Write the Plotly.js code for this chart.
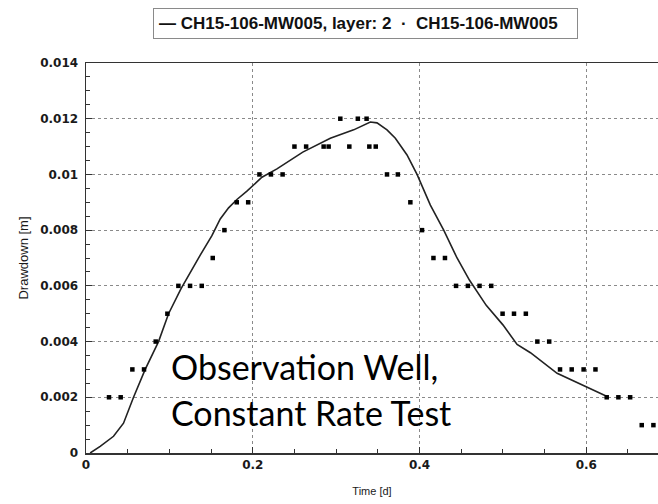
<!DOCTYPE html>
<html>
<head>
<meta charset="utf-8">
<script src="https://cdn.plot.ly/plotly-3.0.1.min.js"></script>
<style>
  html, body { margin: 0; padding: 0; background: #ffffff; }
  #chart { width: 658px; height: 504px; }
</style>
</head>
<body>
<div id="chart"></div>
<script>
// Simulated drawdown (line): CH15-106-MW005, layer: 2
const simTime = [0.005, 0.017, 0.033, 0.045, 0.057, 0.071, 0.087, 0.099, 0.114, 0.127,
                 0.137, 0.151, 0.161, 0.171, 0.181, 0.193, 0.211, 0.229, 0.260, 0.293,
                 0.321, 0.341, 0.349, 0.361, 0.371, 0.385, 0.397, 0.413, 0.429, 0.445,
                 0.460, 0.480, 0.500, 0.517, 0.533, 0.565, 0.596, 0.625];
const simDrawdown = [0.0000, 0.00024, 0.0006, 0.00107, 0.0020, 0.0030, 0.0040, 0.0050, 0.0059, 0.0066,
                     0.0071, 0.0078, 0.0084, 0.0088, 0.0091, 0.0094, 0.0099, 0.0102, 0.0108, 0.0113,
                     0.0116, 0.01188, 0.01185, 0.0116, 0.0113, 0.0107, 0.0100, 0.0089, 0.0080, 0.0070,
                     0.0062, 0.0053, 0.0046, 0.0039, 0.0036, 0.00286, 0.00243, 0.00203];

// Observed drawdown (points): CH15-106-MW005
const obsTime = [0.0276, 0.0416, 0.0556, 0.0696, 0.0836, 0.0976, 0.1108, 0.1248, 0.1388, 0.152,
                 0.166, 0.1808, 0.1945, 0.208, 0.2218, 0.2358, 0.250, 0.264, 0.285, 0.291,
                 0.305, 0.3158, 0.326, 0.3365, 0.3398, 0.3475, 0.361, 0.374, 0.389, 0.403,
                 0.4167, 0.4305, 0.4438, 0.458, 0.472, 0.486, 0.4996, 0.5133, 0.5275, 0.5413,
                 0.5555, 0.5685, 0.5825, 0.5968, 0.611, 0.6245, 0.6385, 0.6526, 0.6665, 0.6805];
const obsDrawdown = [0.002, 0.002, 0.003, 0.003, 0.004, 0.005, 0.006, 0.006, 0.006, 0.007,
                     0.008, 0.009, 0.009, 0.010, 0.010, 0.010, 0.011, 0.011, 0.011, 0.011,
                     0.012, 0.011, 0.012, 0.012, 0.011, 0.011, 0.010, 0.010, 0.009, 0.008,
                     0.007, 0.007, 0.006, 0.006, 0.006, 0.006, 0.005, 0.005, 0.005, 0.004,
                     0.004, 0.003, 0.003, 0.003, 0.003, 0.002, 0.002, 0.002, 0.001, 0.001];

const xTickVals = [0, 0.2, 0.4, 0.6];
const xTickText = ['0', '0.2', '0.4', '0.6'];
const yTickVals = [0, 0.002, 0.004, 0.006, 0.008, 0.01, 0.012, 0.014];
const yTickText = ['0', '0.002', '0.004', '0.006', '0.008', '0.01', '0.012', '0.014'];

const legendText = '— CH15-106-MW005, layer: 2  ·  CH15-106-MW005&nbsp;&nbsp;&nbsp;';
const noteLine1 = 'Observation Well,';
const noteLine2 = 'Constant Rate Test';

const tickFont = { family: 'DejaVu Sans', size: 12, color: '#1a1a1a', weight: 'bold' };

const traces = [
  {
    type: 'scatter', mode: 'lines', name: 'CH15-106-MW005, layer: 2',
    x: simTime, y: simDrawdown,
    line: { color: '#222222', width: 1.6 },
    hoverinfo: 'skip'
  },
  {
    type: 'scatter', mode: 'markers', name: 'CH15-106-MW005',
    x: obsTime, y: obsDrawdown,
    marker: { symbol: 'square', size: 4.5, color: '#000000', line: { width: 0 } },
    hoverinfo: 'skip'
  }
];

const layout = {
  width: 658, height: 504,
  margin: { l: 86, r: 0, t: 63, b: 51, pad: 0 },
  paper_bgcolor: '#ffffff', plot_bgcolor: '#ffffff',
  showlegend: false,
  font: { family: 'Liberation Sans, Arial, sans-serif', color: '#1a1a1a' },
  xaxis: {
    range: [0, 0.686], tickmode: 'array', tickvals: xTickVals, ticktext: xTickText,
    tickfont: tickFont,
    showgrid: true, gridcolor: '#8a8a8a', griddash: 'dot', gridwidth: 1,
    zeroline: false, showline: true, linecolor: '#333333', linewidth: 1.5, mirror: true,
    ticks: 'inside', ticklen: 6, tickwidth: 1, tickcolor: '#333333',
    minor: { dtick: 0.05, tick0: 0, ticks: 'inside', ticklen: 4, tickcolor: '#333333', showgrid: false },
    title: { text: 'Time [d]', font: { family: 'Liberation Sans, Arial, sans-serif', size: 11, color: '#1a1a1a' }, standoff: 16 }
  },
  yaxis: {
    range: [0, 0.014], tickmode: 'array', tickvals: yTickVals, ticktext: yTickText,
    tickfont: tickFont,
    showgrid: true, gridcolor: '#8a8a8a', griddash: 'dot', gridwidth: 1,
    zeroline: false, showline: true, linecolor: '#333333', linewidth: 1.5, mirror: false,
    ticks: 'inside', ticklen: 6, tickwidth: 1, tickcolor: '#333333',
    ticklabelstandoff: 4,
    minor: { dtick: 0.0005, tick0: 0, ticks: 'inside', ticklen: 4, tickcolor: '#333333', showgrid: false },
    title: { text: 'Drawdown [m]', font: { family: 'Liberation Sans, Arial, sans-serif', size: 13, color: '#1a1a1a' }, standoff: 8 }
  },
  annotations: [
    {
      text: legendText, xref: 'paper', yref: 'paper',
      x: 0.117, y: 1.1, xanchor: 'left', yanchor: 'middle', showarrow: false,
      font: { family: 'Liberation Sans, Arial, sans-serif', size: 17, color: '#111111', weight: 'bold' },
      bordercolor: '#8a8a8a', borderwidth: 1, borderpad: 5, bgcolor: '#ffffff'
    },
    {
      text: noteLine1, xref: 'paper', yref: 'paper',
      x: 0.145, y: 0.223, xanchor: 'left', yanchor: 'middle', showarrow: false,
      font: { family: 'Lato', size: 34, color: '#000000' }
    },
    {
      text: noteLine2, xref: 'paper', yref: 'paper',
      x: 0.145, y: 0.1026, xanchor: 'left', yanchor: 'middle', showarrow: false,
      font: { family: 'Lato', size: 34, color: '#000000' }
    }
  ]
};

Plotly.newPlot('chart', traces, layout, { displayModeBar: false, staticPlot: true });
</script>
</body>
</html>
